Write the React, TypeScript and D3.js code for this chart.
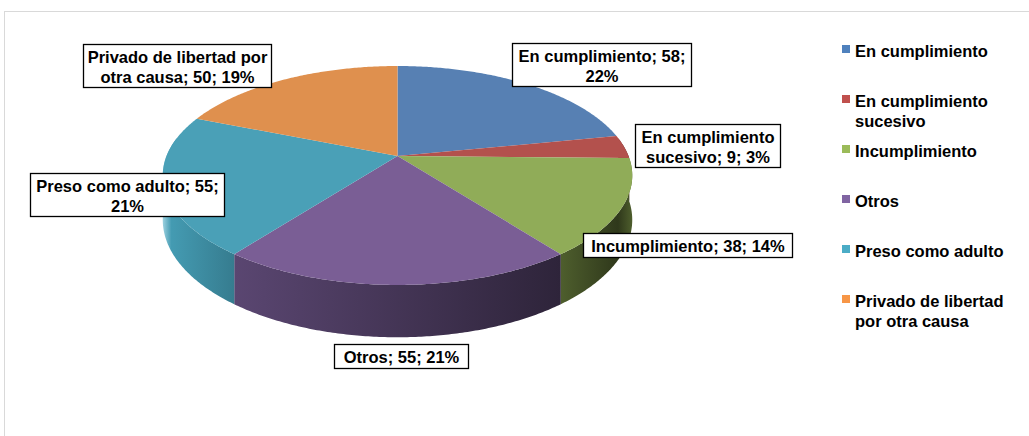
import React from "react";
import * as d3 from "d3";

const width = 1029;
const height = 436;

const categories = [
  "En cumplimiento",
  "En cumplimiento sucesivo",
  "Incumplimiento",
  "Otros",
  "Preso como adulto",
  "Privado de libertad por otra causa",
];
const values = [58, 9, 38, 55, 55, 50];
const legendLines = [
  ["En cumplimiento"],
  ["En cumplimiento", "sucesivo"],
  ["Incumplimiento"],
  ["Otros"],
  ["Preso como adulto"],
  ["Privado de libertad", "por otra causa"],
];
const colors = ["#4f81bd", "#c0504d", "#9bbb59", "#8064a2", "#4bacc6", "#f79646"];
const topColors = ["#5780b3", "#b3514d", "#90ac58", "#7a5e95", "#4aa0b7", "#df904e"];

// where Excel put the data labels (box left/top/width, words on the first line)
const labelLayout = [
  { x: 512, y: 43, w: 179, words: 3 },
  { x: 635, y: 124, w: 145, words: 2 },
  { x: 583, y: 233, w: 209, words: 99 },
  { x: 334, y: 344, w: 134, words: 99 },
  { x: 30, y: 173, w: 194, words: 4 },
  { x: 83, y: 44, w: 188, words: 4 },
];

// wall shading: [offset, brightness] (brightness > 1 = toward white)
const wallShade = [
  [[0, 0.6], [1, 0.4]],
  [[0, 0.6], [1, 0.4]],
  [[0, 0.5], [0.8, 0.3], [1, 0.5]],
  [[0, 0.7], [1, 0.36]],
  [[0, 1.45], [0.12, 0.9], [1, 0.72]],
  [[0, 0.6], [1, 0.4]],
];

const CX = 397.5;
const CY = 156;
const RX = 231;
const RY = 106;
const P = 0.178;
const DEPTH = 43;

const proj = (a: number, dz = 0): [number, number] => {
  const u = Math.sin(a);
  const v = -Math.cos(a);
  const k = 1 / (1 - P * v);
  return [CX + RX * u * k, CY + RY * v * k + dz * k];
};

const shade = (c: string, b: number) => {
  if (b > 1) return d3.interpolateRgb(c, "#ffffff")(b - 1);
  const r = d3.rgb(c);
  return d3.rgb(r.r * b, r.g * b, r.b * b).formatHex();
};

const arcPts = (a0: number, a1: number, dz = 0) => {
  const n = Math.max(2, Math.ceil(Math.abs(a1 - a0) / 0.01));
  return d3.range(n + 1).map((i) => proj(a0 + ((a1 - a0) * i) / n, dz));
};

const App = () => {
  const total = d3.sum(values);
  const arcs = d3.pie<number>().sort(null)(values);
  const line = d3.line();
  const W0 = (80 * Math.PI) / 180;
  const W1 = (280 * Math.PI) / 180;

  const walls = arcs
    .map((d, i) => {
      const lo = Math.max(d.startAngle, W0);
      const hi = Math.min(d.endAngle, W1);
      if (hi <= lo) return null;
      const top = arcPts(lo, hi);
      const bot = arcPts(hi, lo, DEPTH);
      const xs = top.concat(bot).map((p) => p[0]);
      return { i, path: line(top.concat(bot)) + "Z", x0: d3.min(xs)!, x1: d3.max(xs)! };
    })
    .filter((w) => w !== null) as { i: number; path: string; x0: number; x1: number }[];

  const tops = arcs.map((d, i) => ({
    i,
    path: line([[CX, CY] as [number, number], ...arcPts(d.startAngle, d.endAngle)]) + "Z",
  }));

  const font = "'Liberation Sans', Arial, sans-serif";

  return (
    <svg
      width={width}
      height={height}
      style={{ position: "absolute", left: 0, top: 0, background: "#fff" }}
    >
      <defs>
        {walls.map((w) => (
          <linearGradient
            key={w.i}
            id={`wall${w.i}`}
            gradientUnits="userSpaceOnUse"
            x1={w.x0}
            x2={w.x1}
            y1={0}
            y2={0}
          >
            {wallShade[w.i].map(([o, b], j) => (
              <stop key={j} offset={o} stopColor={shade(colors[w.i], b)} />
            ))}
          </linearGradient>
        ))}
      </defs>
      <rect x={4.5} y={11.5} width={1040} height={440} fill="none" stroke="#d9d9d9" />

      {walls.map((w) => (
        <path key={w.i} d={w.path} fill={`url(#wall${w.i})`} />
      ))}
      {tops.map((t) => (
        <path key={t.i} d={t.path} fill={topColors[t.i]} />
      ))}

      {values.map((v, i) => {
        const pct = Math.round((v / total) * 100);
        const words = `${categories[i]}; ${v}; ${pct}%`.split(" ");
        const L = labelLayout[i];
        const lines =
          L.words >= words.length
            ? [words.join(" ")]
            : [words.slice(0, L.words).join(" "), words.slice(L.words).join(" ")];
        const h = lines.length === 1 ? 24 : 43;
        return (
          <g key={i}>
            <rect
              x={L.x + 0.5}
              y={L.y + 0.5}
              width={L.w}
              height={h}
              fill="#fff"
              stroke="#000"
              strokeWidth={1.3}
            />
            {lines.map((s, j) => (
              <text
                key={j}
                x={L.x + L.w / 2 + 0.5}
                y={L.y + 18.5 + j * 20}
                textAnchor="middle"
                fontFamily={font}
                fontWeight="bold"
                fontSize={16.5}
                fill="#000"
              >
                {s}
              </text>
            ))}
          </g>
        );
      })}

      {legendLines.map((ls, i) => (
        <g key={i} transform={`translate(842, ${45 + i * 50})`}>
          <rect x={0} y={0} width={8} height={8} fill={colors[i]} />
          {ls.map((s, j) => (
            <text
              key={j}
              x={13}
              y={11.6 + j * 20}
              fontFamily={font}
              fontWeight="bold"
              fontSize={16.5}
              fill="#000"
            >
              {s}
            </text>
          ))}
        </g>
      ))}
    </svg>
  );
};

export default App;
